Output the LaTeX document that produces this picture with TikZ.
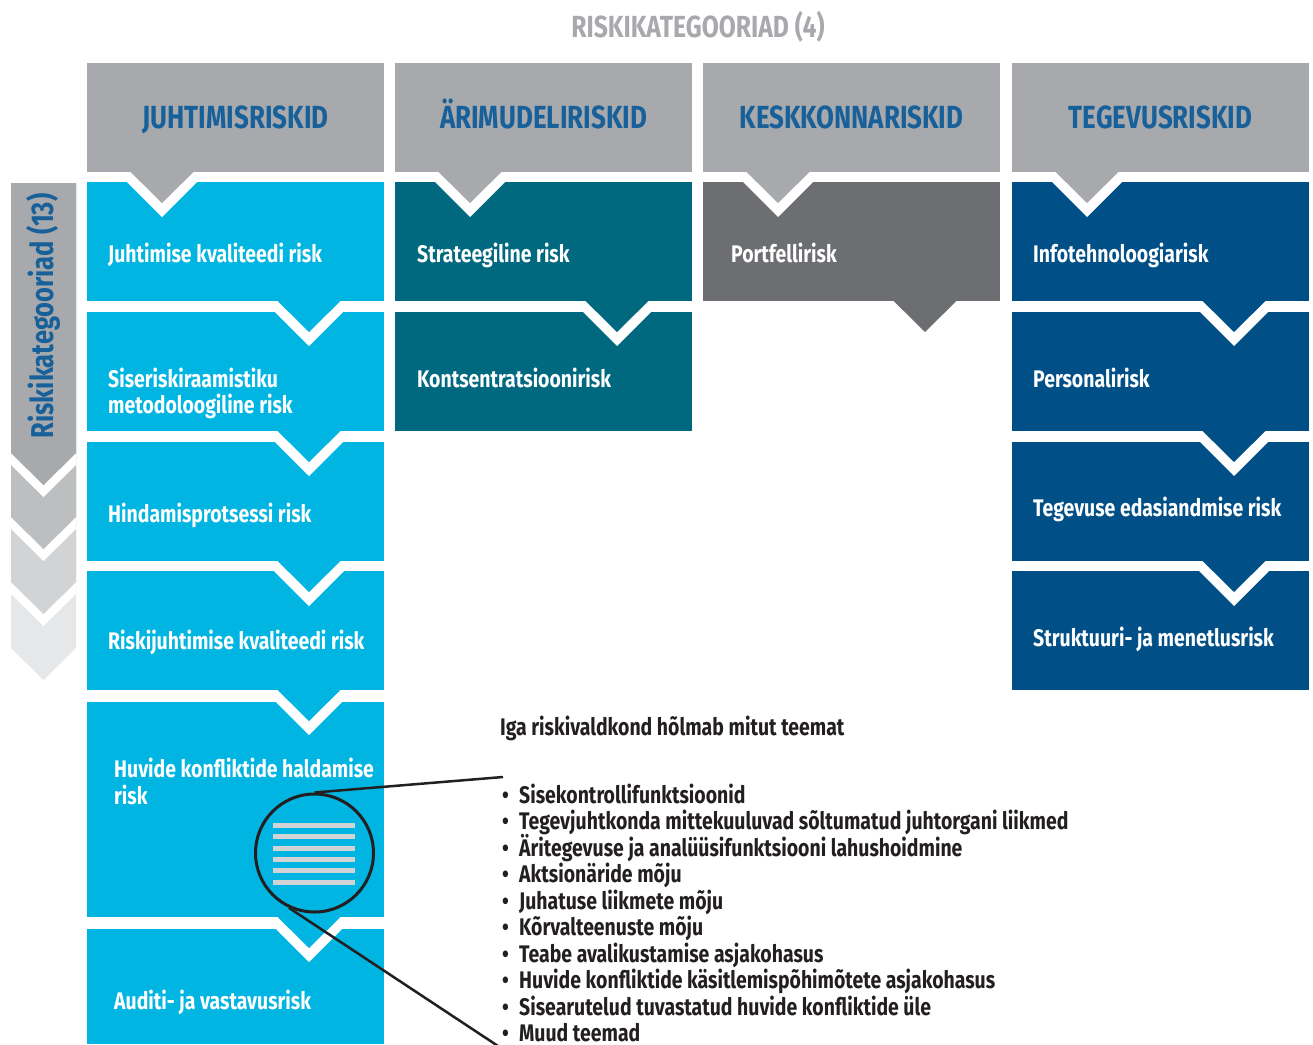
\documentclass[tikz,border=0pt]{standalone}
\usepackage{fontspec}
\newfontfamily\cf{Fira Sans}[FakeStretch=0.81]
\definecolor{hgray}{HTML}{A7A9AC}
\definecolor{lblue}{HTML}{00B5E2}
\definecolor{myteal}{HTML}{00687F}
\definecolor{dgray}{HTML}{6D6E71}
\definecolor{dblue}{HTML}{004F86}
\definecolor{tblue}{HTML}{17609A}
\definecolor{gtwo}{HTML}{BCBEC0}
\definecolor{gthree}{HTML}{D1D3D4}
\definecolor{gfour}{HTML}{E6E7E8}
\definecolor{ink}{HTML}{231F20}
\newcommand\mychev[3]{%
  \fill[white] (#1-45,#2) -- (#1+45,#2) -- (#1,#2+45) -- cycle;
  \fill[#3] (#1-32,#2-0.6) -- (#1+32,#2-0.6) -- (#1,#2+31) -- cycle;}
\newcommand\mywv[1]{%
  \fill[white] (11,#1) -- (43.5,#1+32) -- (76,#1) -- (76,#1+12) -- (43.5,#1+44) -- (11,#1+12) -- cycle;}
\tikzset{
  lbl/.style={font=\cf\bfseries\fontsize{24}{26}\selectfont, text=white, anchor=base west, inner sep=0pt},
  hdr/.style={font=\cf\bfseries\fontsize{32}{36}\selectfont, text=tblue, anchor=base, inner sep=0pt},
  lst/.style={font=\cf\bfseries\fontsize{24}{26}\selectfont, text=ink, anchor=base west, inner sep=0pt},
}
\begin{document}
\begin{tikzpicture}[x=1pt,y=-1pt]
\useasboundingbox (0,0) rectangle (1313,1044);
\fill[white] (0,0) rectangle (1313,1044);
% title
\node[font=\cf\bfseries\fontsize{30.5}{32}\selectfont, text=hgray, inner sep=0pt] (title) at (698,27) {RISKIKATEGOORIAD (4)};
% left arrow
\fill[gfour] (11,183) -- (76,183) -- (76,648) -- (43.5,680) -- (11,648) -- cycle;
\mywv{582}
\fill[gthree] (11,183) -- (76,183) -- (76,582) -- (43.5,614) -- (11,582) -- cycle;
\mywv{517}
\fill[gtwo] (11,183) -- (76,183) -- (76,517) -- (43.5,549) -- (11,517) -- cycle;
\mywv{453}
\fill[hgray] (11,183) -- (76,183) -- (76,453) -- (43.5,485) -- (11,453) -- cycle;
\node[font=\cf\bfseries\fontsize{31.5}{34}\selectfont, text=tblue, rotate=90, anchor=base, inner sep=0pt] (vtitle) at (53,316) {Riskikategooriad (13)};
% headers
\foreach \l/\t [count=\k] in {87/JUHTIMISRISKID,395/ÄRIMUDELIRISKID,703/KESKKONNARISKID,1012/TEGEVUSRISKID}{
  \fill[hgray] (\l,63) rectangle (\l+297,172);
  \node[hdr] (h\k) at (\l+148.5,128.5) {\t};
}
% column 1
\fill[lblue] (87,182) rectangle (384,301);
\fill[lblue] (87,312) rectangle (384,431);
\fill[lblue] (87,442) rectangle (384,561);
\fill[lblue] (87,571) rectangle (384,690);
\fill[lblue] (87,702) rectangle (384,917);
\fill[lblue] (87,929) rectangle (384,1044);
% column 2
\fill[myteal] (395,182) rectangle (692,301);
\fill[myteal] (395,312) rectangle (692,431);
% column 3
\fill[dgray] (703,182) rectangle (1000,301);
% column 4
\fill[dblue] (1012,182) rectangle (1309,301);
\fill[dblue] (1012,312) rectangle (1309,431);
\fill[dblue] (1012,442) rectangle (1309,561);
\fill[dblue] (1012,571) rectangle (1309,690);
% chevrons
\foreach \l in {87,395,703,1012}{\mychev{\l+75}{172}{hgray}}
\foreach \y in {301,431,561,690,917}{\mychev{309}{\y}{lblue}}
\mychev{617}{301}{myteal}
\fill[dgray] (893,300.4) -- (957,300.4) -- (925,332) -- cycle;
\foreach \y in {301,431,561}{\mychev{1234}{\y}{dblue}}
% labels
\node[lbl] (a1) at (108,262) {Juhtimise kvaliteedi risk};
\node[lbl] (a2) at (108,387) {Siseriskiraamistiku};
\node[lbl] (a2b) at (108,413) {metodoloogiline risk};
\node[lbl] (a3) at (108,522) {Hindamisprotsessi risk};
\node[lbl] (a4) at (108,649) {Riskijuhtimise kvaliteedi risk};
\node[lbl] (a5) at (114,777) {Huvide konfliktide haldamise};
\node[lbl] (a5b) at (114,804) {risk};
\node[lbl] (a6) at (114,1009) {Auditi- ja vastavusrisk};
\node[lbl] (b1) at (417,262) {Strateegiline risk};
\node[lbl] (b2) at (417,387) {Kontsentratsioonirisk};
\node[lbl] (c1) at (731,262) {Portfellirisk};
\node[lbl] (d1) at (1033,262) {Infotehnoloogiarisk};
\node[lbl] (d2) at (1033,387) {Personalirisk};
\node[lbl] (d3) at (1033,516) {Tegevuse edasiandmise risk};
\node[lbl] (d4) at (1033,646) {Struktuuri- ja menetlusrisk};
% magnifier
\foreach \y in {823,834.3,845.6,856.9,868.2,879.5}{\fill[gthree] (273,\y) rectangle (355,\y+5);}
\node[circle, draw=ink, line width=3pt, minimum size=118pt, inner sep=0pt] (circ) at (314.5,853) {};
\coordinate (t1) at (503,777);
\coordinate (t2) at (498,1046);
\draw[ink, line width=2.5pt] (circ.north) -- (t1);
\draw[ink, line width=2.5pt] (circ.245) -- (t2);
% list
\node[lst] (lh) at (500,735) {Iga riskivaldkond hõlmab mitut teemat};
\foreach \t [count=\i] in {Sisekontrollifunktsioonid,Tegevjuhtkonda mittekuuluvad sõltumatud juhtorgani liikmed,Äritegevuse ja analüüsifunktsiooni lahushoidmine,Aktsionäride mõju,Juhatuse liikmete mõju,Kõrvalteenuste mõju,Teabe avalikustamise asjakohasus,Huvide konfliktide käsitlemispõhimõtete asjakohasus,Sisearutelud tuvastatud huvide konfliktide üle,Muud teemad}{
  \node[lst] (bu\i) at (502,803+26.5*\i-26.5) {•};
  \node[lst] (it\i) at (519,803+26.5*\i-26.5) {\t};
}
\end{tikzpicture}
\end{document}
